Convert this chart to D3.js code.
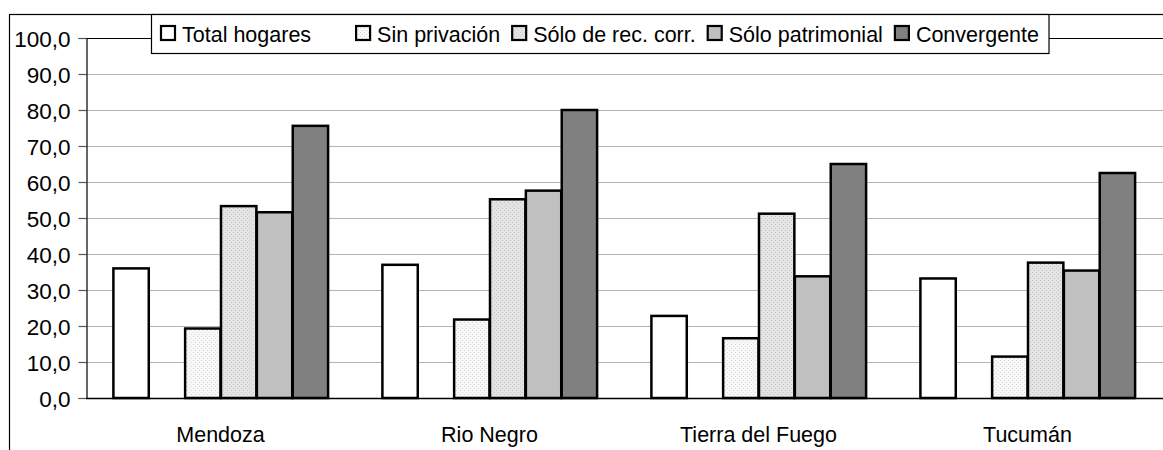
<!DOCTYPE html>
<html>
<head>
<meta charset="utf-8">
<script src="https://cdn.jsdelivr.net/npm/d3@7"></script>
<style>
  html, body { margin: 0; padding: 0; background: #fff; }
  svg { display: block; font-family: "Liberation Sans", Arial, sans-serif; }
</style>
</head>
<body>
<svg id="chart" width="1163" height="450"></svg>
<script>
// Provinces on the x axis
const categories = ["Mendoza", "Rio Negro", "Tierra del Fuego", "Tucumán"];

// Percentages per household group (one array per series)
const totalHogares      = [36.0, 37.0, 22.8, 33.2];
const sinPrivacion      = [19.3, 21.8, 16.6, 11.5];
const soloRecCorr       = [53.3, 55.2, 51.2, 37.6];
const soloPatrimonial   = [51.6, 57.6, 33.8, 35.4];
const convergente       = [75.6, 80.0, 65.0, 62.5];

// Y axis ticks
const yTicks = [0, 10, 20, 30, 40, 50, 60, 70, 80, 90, 100];

// Series in drawing order; the empty entry keeps an unused slot between the first two groups
const series = [
  { name: "Total hogares",       values: totalHogares,    fill: "#ffffff" },
  { name: "",                    values: null,            fill: "none" },
  { name: "Sin privación",       values: sinPrivacion,    fill: "url(#patLight)" },
  { name: "Sólo de rec. corr.",  values: soloRecCorr,     fill: "url(#patMid)" },
  { name: "Sólo patrimonial",    values: soloPatrimonial, fill: "#c0c0c0" },
  { name: "Convergente",         values: convergente,     fill: "#808080" }
];

const FONT = "Liberation Sans, Arial, sans-serif";
const svg = d3.select("#chart");
const fmt = v => d3.format(".1f")(v).replace(".", ",");

// Dotted fills
const defs = svg.append("defs");
function dotPattern(id, base, dot) {
  const p = defs.append("pattern").attr("id", id)
    .attr("patternUnits", "userSpaceOnUse").attr("width", 4).attr("height", 4);
  p.append("rect").attr("width", 4).attr("height", 4).attr("fill", base);
  p.append("rect").attr("x", 0).attr("y", 0).attr("width", 1).attr("height", 1).attr("fill", dot);
  p.append("rect").attr("x", 2).attr("y", 2).attr("width", 1).attr("height", 1).attr("fill", dot);
}
dotPattern("patLight", "#f8f8f8", "#d6d6d6");
dotPattern("patMid", "#e4e4e4", "#c4c4c4");

const plot = { left: 86, right: 1162, top: 38, bottom: 398 };

const x0 = d3.scaleBand().domain(categories)
  .range([plot.left, plot.right]).paddingInner(0.2).paddingOuter(0.1);
const x1 = d3.scaleBand().domain(d3.range(series.length))
  .range([0, x0.bandwidth()]);
const y = d3.scaleLinear().domain([0, 100]).range([plot.bottom, plot.top]);

// Outer chart frame (extends past the right and bottom edges)
svg.append("rect")
  .attr("x", 9.5).attr("y", 14.5).attr("width", 1200).attr("height", 500)
  .attr("fill", "none").attr("stroke", "#000").attr("stroke-width", 1.2);

// Gridlines
svg.append("g").selectAll("line").data(yTicks.filter(t => t > 0 && t < 100)).join("line")
  .attr("x1", plot.left).attr("x2", 1163)
  .attr("y1", d => Math.round(y(d)) + 0.5).attr("y2", d => Math.round(y(d)) + 0.5)
  .attr("stroke", "#b4b4b4").attr("stroke-width", 1.2);

// Top border of plot area
svg.append("line")
  .attr("x1", plot.left).attr("x2", 1163)
  .attr("y1", y(100) + 0.5).attr("y2", y(100) + 0.5)
  .attr("stroke", "#000").attr("stroke-width", 1.2);

// Bars
const groups = svg.append("g").selectAll("g").data(categories).join("g")
  .attr("transform", d => `translate(${x0(d)},0)`);
groups.selectAll("rect")
  .data((c, ci) => series.map((s, si) => ({ si, s, v: s.values ? s.values[ci] : null }))
    .filter(d => d.v !== null))
  .join("rect")
  .attr("x", d => x1(d.si) + 0.5)
  .attr("width", x1.bandwidth() - 0.5)
  .attr("y", d => y(d.v))
  .attr("height", d => y(0) - y(d.v))
  .attr("fill", d => d.s.fill)
  .attr("stroke", "#000").attr("stroke-width", 2.5);

// Y axis
const yAxis = svg.append("g").attr("transform", `translate(${plot.left + 0.5},0)`)
  .call(d3.axisLeft(y).tickValues(yTicks).tickSize(8).tickPadding(8).tickFormat(fmt));
yAxis.attr("font-family", FONT);
yAxis.select(".domain").attr("stroke", "#000").attr("stroke-width", 1.2);
yAxis.selectAll(".tick line").attr("stroke", "#555").attr("stroke-width", 1.2);
yAxis.selectAll(".tick text")
  .attr("font-size", 22.5).attr("fill", "#000")
  .attr("dy", "0.36em").attr("x", -16);

// X axis baseline
svg.append("line")
  .attr("x1", plot.left).attr("x2", 1163)
  .attr("y1", y(0) + 0.5).attr("y2", y(0) + 0.5)
  .attr("stroke", "#000").attr("stroke-width", 1.5);

// Category labels
svg.append("g").selectAll("text").data(categories).join("text")
  .attr("x", d => x0(d) + x0.bandwidth() / 2)
  .attr("y", 442)
  .attr("text-anchor", "middle")
  .attr("font-family", FONT)
  .attr("font-size", 21.5)
  .text(d => d);

// Legend
const legend = svg.append("g").attr("font-family", FONT);
const legendBox = legend.append("rect")
  .attr("x", 151.5).attr("y", 14.5).attr("height", 39)
  .attr("fill", "#fff").attr("stroke", "#000").attr("stroke-width", 1.2);
let lx = 161;
series.forEach(s => {
  if (s.values) {
    legend.append("rect")
      .attr("x", lx).attr("y", 26).attr("width", 14).attr("height", 14)
      .attr("fill", s.fill).attr("stroke", "#000").attr("stroke-width", 2.2);
  }
  const t = legend.append("text")
    .attr("x", lx + 21).attr("y", 41.5)
    .attr("font-size", 21.5)
    .text(s.name);
  lx += 21 + t.node().getComputedTextLength() + 12;
});
legendBox.attr("width", lx - 151.5 - 2);
</script>
</body>
</html>
